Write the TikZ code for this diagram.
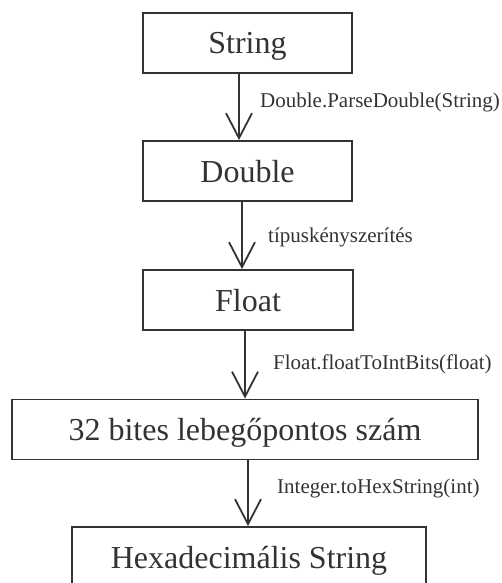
\documentclass[tikz,border=0pt]{standalone}
\usepackage{fontspec}
\setmainfont{Liberation Serif}
\usetikzlibrary{arrows.meta}
\definecolor{ink}{HTML}{333333}
\begin{document}
\begin{tikzpicture}[x=1pt,y=-1pt,
  box/.style={draw=ink, line width=1.8pt, text=ink, inner sep=0pt,
    minimum height=60pt, text height=22pt, text depth=0pt,
    font=\fontsize{32}{36}\selectfont},
  conv/.style={draw=ink, line width=1.8pt,
    -{Straight Barb[length=25pt,width=26pt,line width=1.8pt]}},
  lbl/.style={text=ink, inner sep=0pt, anchor=base west,
    font=\fontsize{21}{24}\selectfont}]
  \clip (0,0) rectangle (501,583);
  % boxes
  \node[box, minimum width=209pt] (str)  at (247.5,43)  {String};
  \node[box, minimum width=209pt] (dbl)  at (247.5,171) {Double};
  \node[box, minimum width=210pt] (flt)  at (248,300)   {Float};
  \node[box, minimum width=466pt] (bits) at (245,429.5) {32 bites lebegőpontos szám};
  % the last box runs past the lower edge
  \node[box, minimum width=354pt, minimum height=76pt, text height=6pt]
    (hex) at (249,565) {Hexadecimális String};
  % conversions
  \draw[conv] ([xshift=-8.5pt]str.south) -- ([xshift=-8.5pt]dbl.north);
  \draw[conv] ([xshift=-5.5pt]dbl.south) -- ([xshift=-6pt]flt.north);
  \draw[conv] ([xshift=-3pt]flt.south) -- ([xshift=0pt]bits.north);
  \draw[conv] ([xshift=3pt]bits.south) -- ([xshift=-1pt]hex.north);
  % labels
  \node[lbl] (l1) at (260,108) {Double.ParseDouble(String)};
  \node[lbl] (l2) at (268,242) {típuskényszerítés};
  \node[lbl] (l3) at (273,369) {Float.floatToIntBits(float)};
  \node[lbl] (l4) at (277,493) {Integer.toHexString(int)};
\end{tikzpicture}
\end{document}
